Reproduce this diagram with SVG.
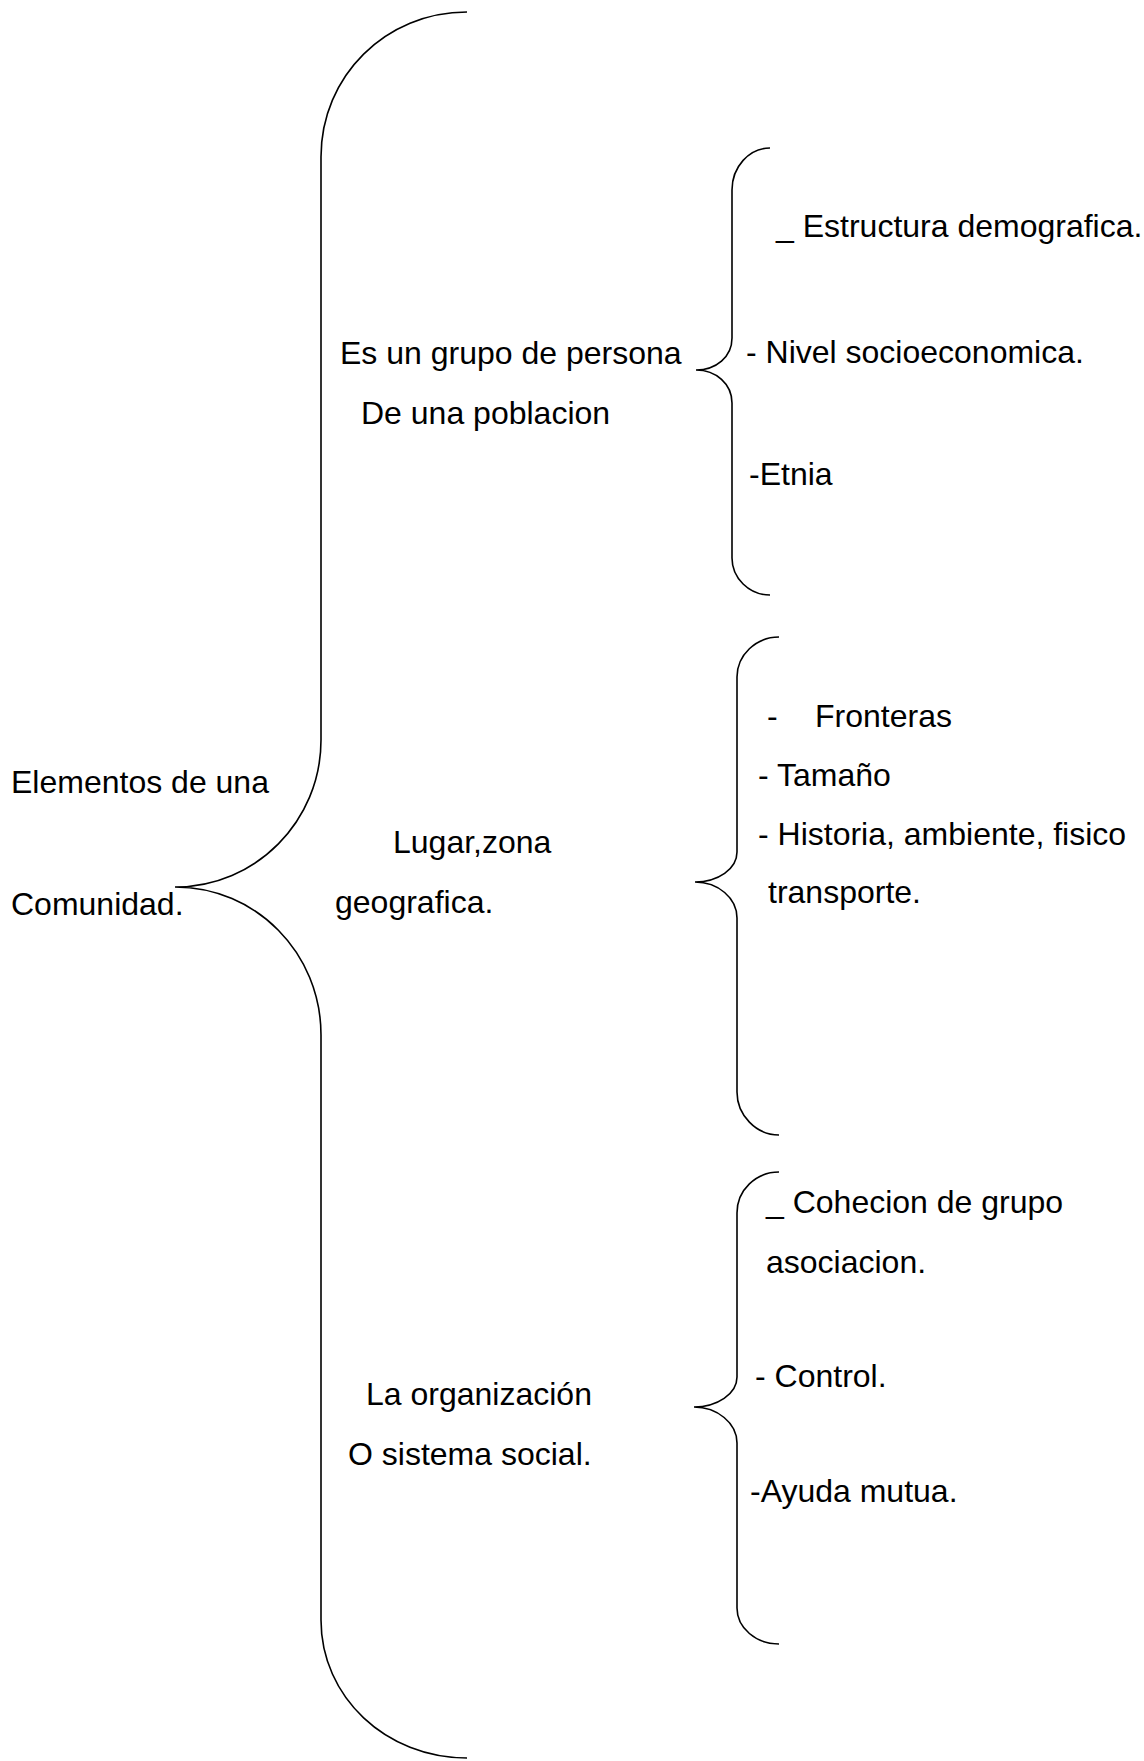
<svg xmlns="http://www.w3.org/2000/svg" width="1144" height="1761" viewBox="0 0 1144 1761">
<style>
  .t { font-family: "Liberation Sans", Arial, sans-serif; font-size: 32px; fill: #000; }
  .b { fill: none; stroke: #000; stroke-width: 1.6; }
</style>
<rect x="0" y="0" width="1144" height="1761" fill="#fff"/>
<g id="connectors">
  <path id="brace-main" class="b" d="M 467 12 C 386 12 321 76 321 157 L 321 740 C 321 821 256 887 175 887 C 256 887 321 953 321 1035 L 321 1620 C 321 1697 386 1758 467 1758"/>
  <path id="brace-1" class="b" d="M 770 148 C 749 148 732 167 732 190 L 732 338 C 732 357 716 370 696 370 C 716 370 732 384 732 403 L 732 558 C 732 578 749 595 770 595"/>
  <path id="brace-2" class="b" d="M 779 637 C 756 637 737 655 737 677 L 737 852 C 737 869 718 882 695 882 C 718 882 737 898 737 918 L 737 1092 C 737 1115 756 1135 779 1135"/>
  <path id="brace-3" class="b" d="M 779 1172 C 756 1172 737 1190 737 1213 L 737 1377 C 737 1394 717 1407 694 1407 C 717 1407 737 1423 737 1443 L 737 1608 C 737 1628 756 1644 779 1644"/>
</g>
<g id="node-root">
  <text class="t" x="11" y="793">Elementos de una</text>
  <text class="t" x="11" y="915">Comunidad.</text>
</g>
<g id="node-grupo">
  <text class="t" x="340" y="364">Es un grupo de persona</text>
  <text class="t" x="361" y="424">De una poblacion</text>
</g>
<g id="node-lugar">
  <text class="t" x="393" y="853">Lugar,zona</text>
  <text class="t" x="335" y="913">geografica.</text>
</g>
<g id="node-organizacion">
  <text class="t" x="366" y="1405">La organización</text>
  <text class="t" x="348" y="1465">O sistema social.</text>
</g>
<g id="node-grupo-items">
  <text class="t" x="776" y="237">_ Estructura demografica.</text>
  <text class="t" x="746" y="363">- Nivel socioeconomica.</text>
  <text class="t" x="749" y="485">-Etnia</text>
</g>
<g id="node-lugar-items">
  <text class="t" x="767" y="727">-<tspan x="815">Fronteras</tspan></text>
  <text class="t" x="758" y="786">- Tamaño</text>
  <text class="t" x="758" y="845">- Historia, ambiente, fisico</text>
  <text class="t" x="768" y="903">transporte.</text>
</g>
<g id="node-organizacion-items">
  <text class="t" x="766" y="1213">_ Cohecion de grupo</text>
  <text class="t" x="766" y="1273">asociacion.</text>
  <text class="t" x="755" y="1387">- Control.</text>
  <text class="t" x="750" y="1502">-Ayuda mutua.</text>
</g>
</svg>
